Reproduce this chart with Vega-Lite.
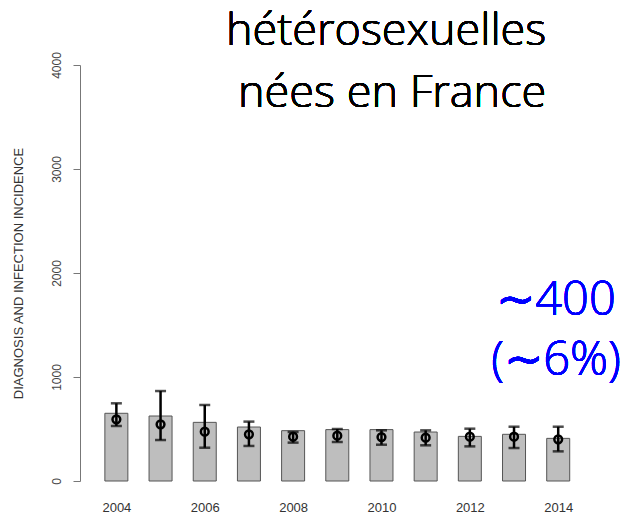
{
  "$schema": "https://vega.github.io/schema/vega-lite/v6.json",
  "autosize": "none",
  "width": 500,
  "height": 416,
  "padding": {"left": 80, "top": 65, "right": 46, "bottom": 39},
  "background": "white",
  "config": {"view": {"stroke": null}},
  "data": {"values": [
    {"year": 2004, "inc": 651, "est": 593, "lo": 529, "hi": 747},
    {"year": 2005, "inc": 625, "est": 545, "lo": 394, "hi": 865},
    {"year": 2006, "inc": 564, "est": 474, "lo": 320, "hi": 731},
    {"year": 2007, "inc": 519, "est": 449, "lo": 337, "hi": 571},
    {"year": 2008, "inc": 484, "est": 426, "lo": 369, "hi": 471},
    {"year": 2009, "inc": 494, "est": 436, "lo": 375, "hi": 500},
    {"year": 2010, "inc": 494, "est": 423, "lo": 349, "hi": 487},
    {"year": 2011, "inc": 471, "est": 417, "lo": 343, "hi": 487},
    {"year": 2012, "inc": 429, "est": 426, "lo": 333, "hi": 503},
    {"year": 2013, "inc": 449, "est": 426, "lo": 317, "hi": 522},
    {"year": 2014, "inc": 410, "est": 401, "lo": 285, "hi": 522}
  ]},
  "encoding": {
    "x": {"field": "year", "type": "quantitative",
      "scale": {"domain": [2003.29, 2014.38], "nice": false, "zero": false},
      "axis": {"values": [2004, 2006, 2008, 2010, 2012, 2014], "format": "d", "title": null,
        "domain": false, "ticks": false, "grid": false, "labelPadding": 20, "labelFlush": false,
        "labelFont": "Liberation Sans", "labelFontSize": 13, "labelColor": "#333"}}
  },
  "layer": [
    {
      "mark": {"type": "bar", "size": 23, "fill": "#bebebe", "stroke": "#555", "strokeWidth": 1},
      "encoding": {
        "y": {"field": "inc", "type": "quantitative",
          "scale": {"domain": [0, 4000], "nice": false},
          "axis": {"values": [0, 1000, 2000, 3000, 4000], "format": "d", "grid": false,
            "title": "DIAGNOSIS AND INFECTION INCIDENCE",
            "titleFont": "Liberation Sans", "titleFontSize": 13, "titleFontWeight": "normal", "titleColor": "#333",
            "titlePadding": 25,
            "labelAngle": 270, "labelFont": "Liberation Sans", "labelFontSize": 12, "labelColor": "#444",
            "labelPadding": 10, "tickSize": 7, "tickColor": "#777", "domainColor": "#777", "labelFlush": false}}
      }
    },
    {
      "mark": {"type": "rule", "color": "black", "strokeWidth": 2.5},
      "encoding": {"y": {"field": "lo", "type": "quantitative"}, "y2": {"field": "hi"}}
    },
    {
      "mark": {"type": "tick", "orient": "horizontal", "size": 11, "thickness": 2.5, "color": "black"},
      "encoding": {"y": {"field": "lo", "type": "quantitative"}}
    },
    {
      "mark": {"type": "tick", "orient": "horizontal", "size": 11, "thickness": 2.5, "color": "black"},
      "encoding": {"y": {"field": "hi", "type": "quantitative"}}
    },
    {
      "mark": {"type": "point", "shape": "circle", "filled": false, "stroke": "black", "strokeWidth": 2.5, "size": 60, "opacity": 1},
      "encoding": {"y": {"field": "est", "type": "quantitative"}}
    },
    {
      "mark": {"type": "text", "text": ["hétérosexuelles", "nées en France"], "font": "Open Sans", "fontSize": 45, "fontWeight": 360,
        "align": "right", "baseline": "alphabetic", "lineHeight": 62, "color": "black"},
      "encoding": {"x": {"datum": 2013.73, "type": "quantitative"}, "y": {"datum": 4192, "type": "quantitative"}}
    },
    {
      "mark": {"type": "text", "text": ["∼400", "(∼6%)"], "font": "Open Sans", "fontSize": 47, "fontWeight": 360,
        "align": "center", "baseline": "alphabetic", "lineHeight": 60, "color": "#0000ff"},
      "encoding": {"x": {"datum": 2013.95, "type": "quantitative"}, "y": {"datum": 1596, "type": "quantitative"}}
    }
  ]
}
